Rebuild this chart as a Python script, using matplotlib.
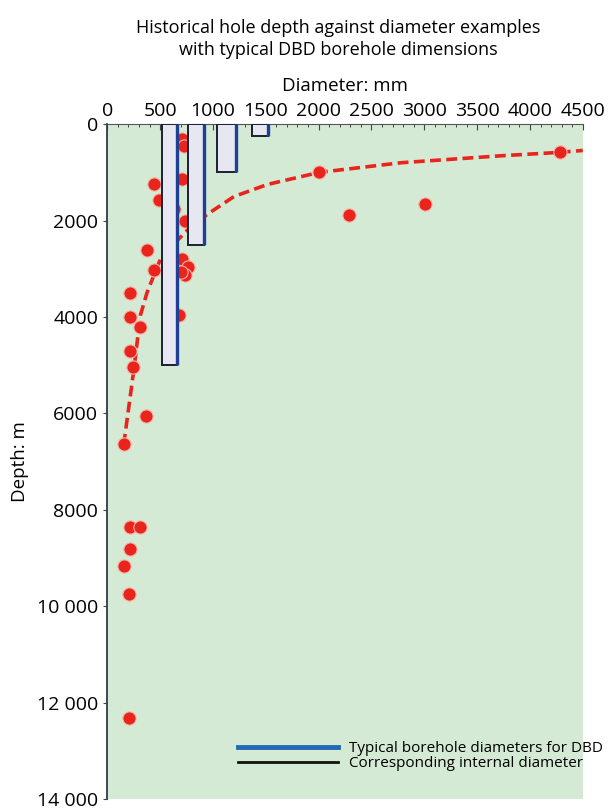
import numpy as np
import matplotlib.pyplot as plt

# Historical boreholes (diameter mm, depth m)
hole_diam = [709, 725, 709, 440, 487, 630, 735, 377, 440, 710, 760, 735, 700,
             212, 212, 677, 307, 212, 244, 370, 155, 212, 307, 212, 155, 203,
             203, 2007, 2290, 3007, 4280]
hole_depth = [312, 450, 1130, 1250, 1580, 1750, 2000, 2618, 3020, 2800, 2970,
              3130, 3060, 3507, 3993, 3958, 4200, 4700, 5035, 6062, 6646, 8368,
              8368, 8806, 9167, 9757, 12326, 990, 1890, 1650, 585]

# Trend line
trend_diam = [155, 202, 249, 313, 375, 440, 503, 580, 659, 780, 946, 1200,
              1517, 2007, 2780, 3730, 4280, 4500]
trend_depth = [6650, 5890, 5130, 3967, 3500, 3140, 2800, 2600, 2420, 2150,
               1870, 1500, 1250, 1000, 800, 655, 585, 545]

# Typical DBD boreholes
dbd_outer = [660, 915, 1220, 1525]
dbd_inner = [520, 760, 1040, 1370]
dbd_depth = [5000, 2500, 1000, 250]

y_ticks = [0, 2000, 4000, 6000, 8000, 10000, 12000, 14000]
y_labels = ['0', '2000', '4000', '6000', '8000', '10 000', '12 000', '14 000']
x_ticks = np.arange(0, 4501, 500)

plt.rcParams['font.family'] = ['Open Sans', 'DejaVu Sans']

fig = plt.figure(figsize=(6.08, 8.09), dpi=100)
ax = fig.add_axes([0.1765, 0.0125, 0.782, 0.834])
ax.set_facecolor('#d4ead5')

red = '#e8241c'
blue = '#1f3f95'

ax.plot(trend_diam, trend_depth, color=red, lw=2.6, ls=(0, (3.0, 1.5)), zorder=2)
ax.plot(hole_diam, hole_depth, 'o', color=red, ms=9.5, mec='#f4b3a6', mew=0.8,
        zorder=3)

widths = np.array(dbd_outer) - np.array(dbd_inner)
ax.bar(dbd_inner, dbd_depth, width=widths, align='edge', color='#e6e7f0',
       edgecolor='#1a1f33', lw=1.4, zorder=4)
ax.vlines(dbd_outer, 0, dbd_depth, color=blue, lw=2.4, zorder=5)

ax.set_xlim(0, 4500)
ax.set_ylim(14000, 0)
ax.xaxis.tick_top()
ax.xaxis.set_label_position('top')
ax.set_xticks(x_ticks)
ax.set_xticks(np.arange(0, 4501, 100), minor=True)
ax.set_yticks(y_ticks)
ax.set_yticklabels(y_labels)
ax.tick_params(axis='x', which='major', direction='in', length=4, width=0.8,
               labelsize=14, pad=3, color='#444444')
ax.tick_params(axis='x', which='minor', direction='in', length=2.5, width=0.7,
               color='#444444')
ax.tick_params(axis='y', direction='out', length=3, width=0.8, labelsize=14,
               color='#444444')

for side in ['right', 'bottom']:
    ax.spines[side].set_visible(False)
ax.spines['left'].set_color('#2f3d45')
ax.spines['left'].set_linewidth(1.3)
ax.spines['top'].set_color('#555555')
ax.spines['top'].set_linewidth(0.8)

ax.set_xlabel('Diameter: mm', fontsize=13.5, labelpad=8)
ax.set_ylabel('Depth: m', fontsize=13.5, labelpad=6)

fig.text(0.556, 0.976, 'Historical hole depth against diameter examples\n'
         'with typical DBD borehole dimensions', ha='center', va='top',
         fontsize=13, linespacing=1.25)

# legend
leg_b, = ax.plot([], [], color='#2469b3', lw=3.5)
leg_k, = ax.plot([], [], color='#111111', lw=2)
ax.legend([leg_b, leg_k], ['Typical borehole diameters for DBD',
                           'Corresponding internal diameter'],
          loc='lower right', bbox_to_anchor=(1.065, 0.025), frameon=False,
          fontsize=11, handlelength=6.6, handletextpad=0.7, labelspacing=0.0,
          borderaxespad=0.3)

fig.savefig('out.png', dpi=100)
